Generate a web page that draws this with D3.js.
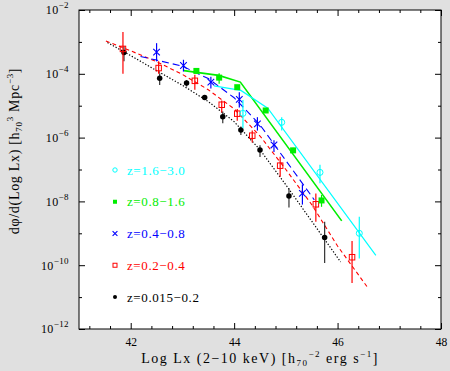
<!DOCTYPE html>
<html>
<head>
<meta charset="utf-8">
<script src="https://cdn.jsdelivr.net/npm/d3@7"></script>
<style>
body { margin: 0; background: #e0e0e0; }
text { font-family: "Liberation Serif", "Times New Roman", serif; }
</style>
</head>
<body>
<div id="chart"></div>
<script>
// Data, all values are log10
const seriesNames = ["z=1.6\u22123.0", "z=0.8\u22121.6", "z=0.4\u22120.8", "z=0.2\u22120.4", "z=0.015\u22120.2"];
const seriesColors = ["#00ffff", "#00ee00", "#0000ff", "#ff0000", "#000000"];
const seriesMarks = ["circleOpen", "squareFilled", "cross", "squareOpen", "dot"];

// z=1.6-3.0
const cyanLx  = [44.17, 44.92, 45.66, 46.42];
const cyanPhi = [-5.24, -5.52, -7.09, -9.00];
const cyanLo  = [-5.71, -5.78, -7.43, -9.79];
const cyanHi  = [-4.82, -5.36, -6.85, -8.48];
const cyanModelLx  = [43.61, 44.13, 44.65, 46.74];
const cyanModelPhi = [-4.38, -4.52, -5.08, -9.69];

// z=0.8-1.6
const greenLx  = [43.27, 43.71, 44.06, 44.61, 45.14, 45.69];
const greenPhi = [-3.91, -4.12, -4.42, -5.15, -6.40, -7.97];
const greenLo  = [-3.99, -4.31, -4.49, -5.22, -6.48, -8.17];
const greenHi  = [-3.83, -3.98, -4.35, -5.08, -6.32, -7.80];
const greenModelLx  = [43.03, 43.70, 44.12, 46.08];
const greenModelPhi = [-3.90, -4.05, -4.26, -8.61];

// z=0.4-0.8
const blueLx  = [42.50, 43.02, 43.55, 44.10, 44.45, 44.77, 45.32];
const bluePhi = [-3.32, -3.74, -4.26, -4.80, -5.57, -6.23, -7.75];
const blueLo  = [-3.61, -3.93, -4.46, -5.06, -5.78, -6.45, -8.10];
const blueHi  = [-3.04, -3.56, -4.09, -4.58, -5.36, -6.08, -7.47];
const blueModelLx  = [42.19, 42.50, 43.00, 43.50, 44.00, 44.50, 45.00, 45.55];
const blueModelPhi = [-3.46, -3.57, -3.76, -4.15, -4.75, -5.60, -6.72, -7.95];

// z=0.2-0.4
const redLx  = [41.85, 42.54, 43.24, 43.76, 44.06, 44.35, 44.89, 45.58, 46.28];
const redPhi = [-3.22, -3.82, -4.22, -4.97, -5.25, -5.94, -6.88, -8.09, -9.75];
const redLo  = [-4.00, -4.00, -4.50, -5.21, -5.47, -6.15, -7.23, -8.64, -10.56];
const redHi  = [-2.69, -3.61, -4.03, -4.84, -5.10, -5.78, -6.60, -7.75, -9.24];
const redModelLx  = [41.52, 42.00, 42.50, 43.00, 43.50, 44.00, 44.50, 45.00, 45.50, 46.00, 46.60];
const redModelPhi = [-2.97, -3.28, -3.62, -4.02, -4.50, -5.10, -5.95, -7.00, -8.10, -9.40, -10.74];

// z=0.015-0.2
const blackLx  = [41.87, 42.56, 43.08, 43.43, 43.78, 44.13, 44.50, 45.06, 45.75];
const blackPhi = [-3.33, -4.14, -4.29, -4.74, -5.35, -5.76, -6.39, -7.83, -9.13];
const blackLo  = [-3.61, -4.35, -4.40, -4.81, -5.55, -5.92, -6.61, -8.19, -9.93];
const blackHi  = [-3.14, -3.98, -4.20, -4.67, -5.18, -5.65, -6.24, -7.59, -8.64];
const blackModelLx  = [41.55, 42.00, 42.50, 43.00, 43.50, 44.00, 44.50, 45.00, 45.50, 46.06];
const blackModelPhi = [-3.02, -3.43, -3.90, -4.36, -4.87, -5.50, -6.38, -7.48, -8.62, -9.90];

const xMajor = [42, 44, 46, 48];
const yMajorExp = [-12, -10, -8, -6, -4, -2];

const series = [
    { lx: cyanLx, phi: cyanPhi, lo: cyanLo, hi: cyanHi, mlx: cyanModelLx, mphi: cyanModelPhi, dash: null, lw: 1.2 },
    { lx: greenLx, phi: greenPhi, lo: greenLo, hi: greenHi, mlx: greenModelLx, mphi: greenModelPhi, dash: null, lw: 1.6 },
    { lx: blueLx, phi: bluePhi, lo: blueLo, hi: blueHi, mlx: blueModelLx, mphi: blueModelPhi, dash: "7,4", lw: 1.1 },
    { lx: redLx, phi: redPhi, lo: redLo, hi: redHi, mlx: redModelLx, mphi: redModelPhi, dash: "4,3", lw: 1.1 },
    { lx: blackLx, phi: blackPhi, lo: blackLo, hi: blackHi, mlx: blackModelLx, mphi: blackModelPhi, dash: "1.3,1.8", lw: 1.2 }
].map((s, i) => Object.assign(s, { name: seriesNames[i], color: seriesColors[i], mark: seriesMarks[i] }));

const W = 450, H = 371;
const box = { left: 79, right: 441, top: 10, bottom: 329 };

const svg = d3.select("#chart").append("svg")
    .attr("width", W).attr("height", H);

svg.append("rect").attr("width", W).attr("height", H).attr("fill", "#e0e0e0");
svg.append("rect")
    .attr("x", box.left).attr("y", box.top)
    .attr("width", box.right - box.left).attr("height", box.bottom - box.top)
    .attr("fill", "white");

const x = d3.scaleLinear().domain([41, 48]).range([box.left, box.right]);
const y = d3.scaleLog().domain([1e-12, 1e-2]).range([box.bottom, box.top]);
const p = v => Math.pow(10, v);

// model curves
const line = d3.line().x(d => x(d[0])).y(d => y(p(d[1])));
series.slice().reverse().forEach(s => {
    svg.append("path")
        .datum(s.mlx.map((v, i) => [v, s.mphi[i]]))
        .attr("d", line)
        .attr("fill", "none")
        .attr("stroke", s.color)
        .attr("stroke-width", s.lw)
        .attr("stroke-dasharray", s.dash);
});

// markers
function drawMark(g, type, cx, cy, color, size) {
    if (type === "circleOpen") {
        g.append("circle").attr("cx", cx).attr("cy", cy).attr("r", size * 0.55)
            .attr("fill", "none").attr("stroke", color).attr("stroke-width", 1);
    } else if (type === "squareFilled") {
        g.append("rect").attr("x", cx - size / 2).attr("y", cy - size / 2)
            .attr("width", size).attr("height", size).attr("fill", color);
    } else if (type === "squareOpen") {
        g.append("rect").attr("x", cx - size / 2).attr("y", cy - size / 2)
            .attr("width", size).attr("height", size)
            .attr("fill", "none").attr("stroke", color).attr("stroke-width", 1);
    } else if (type === "cross") {
        const h = size * 0.6;
        g.append("path").attr("d", `M${cx - h},${cy - h}L${cx + h},${cy + h}M${cx - h},${cy + h}L${cx + h},${cy - h}`)
            .attr("stroke", color).attr("stroke-width", 1.1);
    } else {
        g.append("circle").attr("cx", cx).attr("cy", cy).attr("r", size * 0.5).attr("fill", color);
    }
}

series.slice().reverse().forEach(s => {
    const g = svg.append("g");
    s.lx.forEach((v, i) => {
        g.append("line")
            .attr("x1", x(v)).attr("x2", x(v))
            .attr("y1", y(p(s.lo[i]))).attr("y2", y(p(s.hi[i])))
            .attr("stroke", s.color === "#000000" ? "#333" : s.color)
            .attr("stroke-width", 1.2);
        drawMark(g, s.mark, x(v), y(p(s.phi[i])), s.color, s.mark === "squareFilled" ? 6 : 5.5);
    });
});

// axes, ticks inward on all four sides
const xMinor = d3.range(41.2, 48, 0.4).filter(v => !xMajor.some(m => Math.abs(m - v) < 1e-6));
const yMajor = yMajorExp.map(p);
const yMinor = d3.range(-11, -2, 2).map(p);

function tickAxis(axis, transform) {
    const g = svg.append("g").attr("transform", transform).call(axis);
    g.select(".domain").remove();
    g.selectAll(".tick line").attr("stroke", "black");
    return g;
}

const bottom = tickAxis(d3.axisBottom(x).tickValues(xMajor).tickSize(-6).tickPadding(9).tickFormat(d3.format("d")),
    `translate(0,${box.bottom})`);
bottom.selectAll("text").style("font-size", "11.5px").attr("fill", "black")
    .style("font-family", '"Liberation Serif", serif');
tickAxis(d3.axisBottom(x).tickValues(xMinor).tickSize(-3).tickFormat(""), `translate(0,${box.bottom})`);
tickAxis(d3.axisTop(x).tickValues(xMajor).tickSize(-6).tickFormat(""), `translate(0,${box.top})`);
tickAxis(d3.axisTop(x).tickValues(xMinor).tickSize(-3).tickFormat(""), `translate(0,${box.top})`);
tickAxis(d3.axisLeft(y).tickValues(yMajor).tickSize(-6).tickFormat(""), `translate(${box.left},0)`);
tickAxis(d3.axisLeft(y).tickValues(yMinor).tickSize(-3).tickFormat(""), `translate(${box.left},0)`);
tickAxis(d3.axisRight(y).tickValues(yMajor).tickSize(-6).tickFormat(""), `translate(${box.right},0)`);
tickAxis(d3.axisRight(y).tickValues(yMinor).tickSize(-3).tickFormat(""), `translate(${box.right},0)`);

svg.append("rect")
    .attr("x", box.left).attr("y", box.top)
    .attr("width", box.right - box.left).attr("height", box.bottom - box.top)
    .attr("fill", "none").attr("stroke", "black").attr("stroke-width", 1);

// y tick labels 10^n
yMajorExp.forEach(e => {
    const t = svg.append("text")
        .attr("x", 69).attr("y", y(p(e)) + 4.3)
        .attr("text-anchor", "end")
        .style("font-size", "12px")
        .style("letter-spacing", "0.4px");
    t.append("tspan").text("10");
    t.append("tspan").attr("dy", -6).style("font-size", "9px").text("\u2212" + Math.abs(e));
});

// axis titles
const xt = svg.append("text")
    .attr("x", 260).attr("y", 363)
    .attr("text-anchor", "middle")
    .style("font-size", "14px")
    .style("letter-spacing", "1.5px");
xt.append("tspan").text("Log Lx (2\u221210 keV) [h");
xt.append("tspan").attr("dy", 3).style("font-size", "9px").text("70");
xt.append("tspan").attr("dy", -9).style("font-size", "9px").text("\u22122");
xt.append("tspan").attr("dy", 6).text(" erg s");
xt.append("tspan").attr("dy", -6).style("font-size", "9px").text("\u22121");
xt.append("tspan").attr("dy", 6).text("]");

const yt = svg.append("text")
    .attr("transform", "translate(19,151) rotate(-90)")
    .attr("text-anchor", "middle")
    .style("font-size", "14px")
    .style("letter-spacing", "0.7px");
yt.append("tspan").text("d\u03c6/d(Log Lx) [h");
yt.append("tspan").attr("dy", 3).style("font-size", "9px").text("70");
yt.append("tspan").attr("dy", -9).style("font-size", "9px").text("3");
yt.append("tspan").attr("dy", 6).text(" Mpc");
yt.append("tspan").attr("dy", -6).style("font-size", "9px").text("\u22123");
yt.append("tspan").attr("dy", 6).text("]");

// legend
const legendY = d3.scaleLinear().domain([0, 4]).range([170, 297]);
series.forEach((s, i) => {
    const ly = legendY(i);
    drawMark(svg, s.mark, 115, ly, s.color, 4);
    svg.append("text")
        .attr("x", 127).attr("y", ly + 4.5)
        .attr("fill", s.color)
        .style("font-size", "13px")
        .style("letter-spacing", "0.6px")
        .text(s.name);
});
</script>
</body>
</html>
